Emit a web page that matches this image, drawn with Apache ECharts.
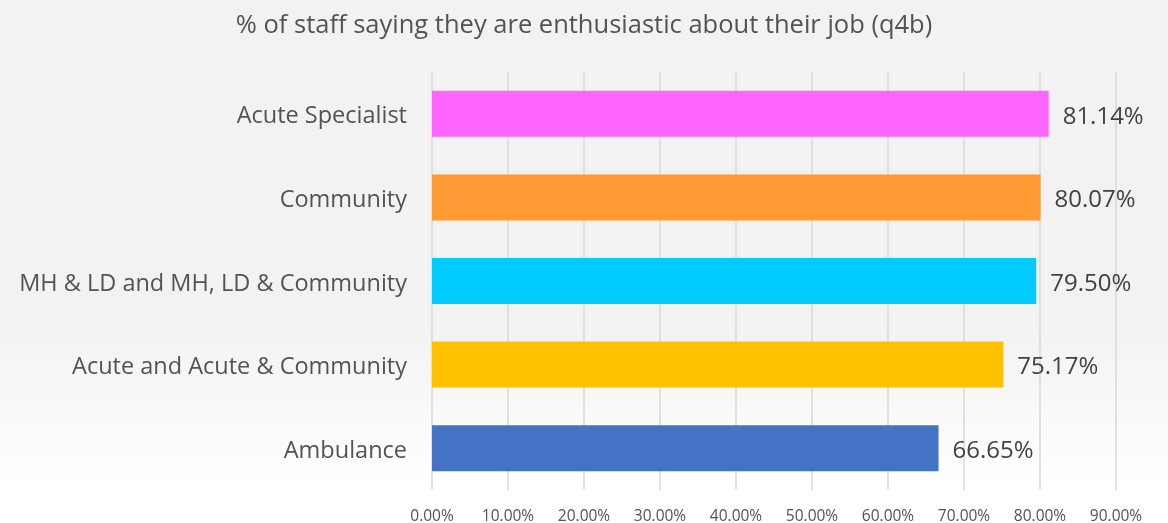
<!DOCTYPE html>
<html>
<head>
<meta charset="utf-8">
<script src="https://cdn.jsdelivr.net/npm/echarts@6/dist/echarts.min.js"></script>
<style>
  html, body { margin: 0; padding: 0; background: #ffffff; }
  #chart { width: 1168px; height: 523px; }
</style>
</head>
<body>
<div id="chart"></div>
<script>
// Staff groups, listed bottom to top as they appear on the category axis
const categories = [
  'Ambulance',
  'Acute and Acute & Community',
  'MH & LD and MH, LD & Community',
  'Community',
  'Acute Specialist'
];
// Percentage of staff enthusiastic about their job
const values = [66.65, 75.17, 79.50, 80.07, 81.14];
const barColors = ['#4472c4', '#ffc000', '#00ccff', '#ff9933', '#ff66ff'];
const chartTitle = '% of staff saying they are enthusiastic about their job (q4b)';

const chart = echarts.init(document.getElementById('chart'), null, { renderer: 'canvas' });

chart.setOption({
  backgroundColor: {
    type: 'linear', x: 0, y: 0, x2: 0, y2: 1,
    colorStops: [
      { offset: 0, color: '#f2f2f2' },
      { offset: 0.62, color: '#f2f2f2' },
      { offset: 0.92, color: '#ffffff' },
      { offset: 1, color: '#ffffff' }
    ]
  },
  animation: false,
  title: {
    text: chartTitle,
    left: 'center',
    top: 8,
    textStyle: {
      fontFamily: 'Open Sans',
      fontSize: 25.5,
      fontWeight: 'normal',
      color: '#555350'
    }
  },
  grid: { left: 432, right: 52, top: 72, bottom: 33, outerBoundsMode: 'none' },
  xAxis: {
    type: 'value',
    min: 0,
    max: 90,
    interval: 10,
    axisLine: { show: false },
    axisTick: { show: false },
    splitLine: { show: true, lineStyle: { color: '#d9d9d9', width: 1.5 } },
    axisLabel: {
      formatter: v => v.toFixed(2) + '%',
      fontFamily: 'Open Sans',
      fontSize: 15.5,
      color: '#555350',
      margin: 19
    }
  },
  yAxis: {
    type: 'category',
    data: categories,
    axisLine: { show: false },
    axisTick: { show: false },
    axisLabel: {
      formatter: v => '{c|' + v + '}',
      margin: 25,
      rich: {
        c: {
          fontFamily: 'Open Sans',
          fontSize: 23.5,
          color: '#555350',
          padding: [6, 0, 0, 0]
        }
      }
    }
  },
  series: [{
    type: 'bar',
    data: values.map((v, i) => ({ value: v, itemStyle: { color: barColors[i] } })),
    barWidth: 46,
    label: {
      show: true,
      position: 'right',
      distance: 14,
      offset: [0, 3],
      formatter: p => p.value.toFixed(2) + '%',
      fontFamily: 'Open Sans',
      fontSize: 24,
      color: '#45423d'
    }
  }]
});
</script>
</body>
</html>
